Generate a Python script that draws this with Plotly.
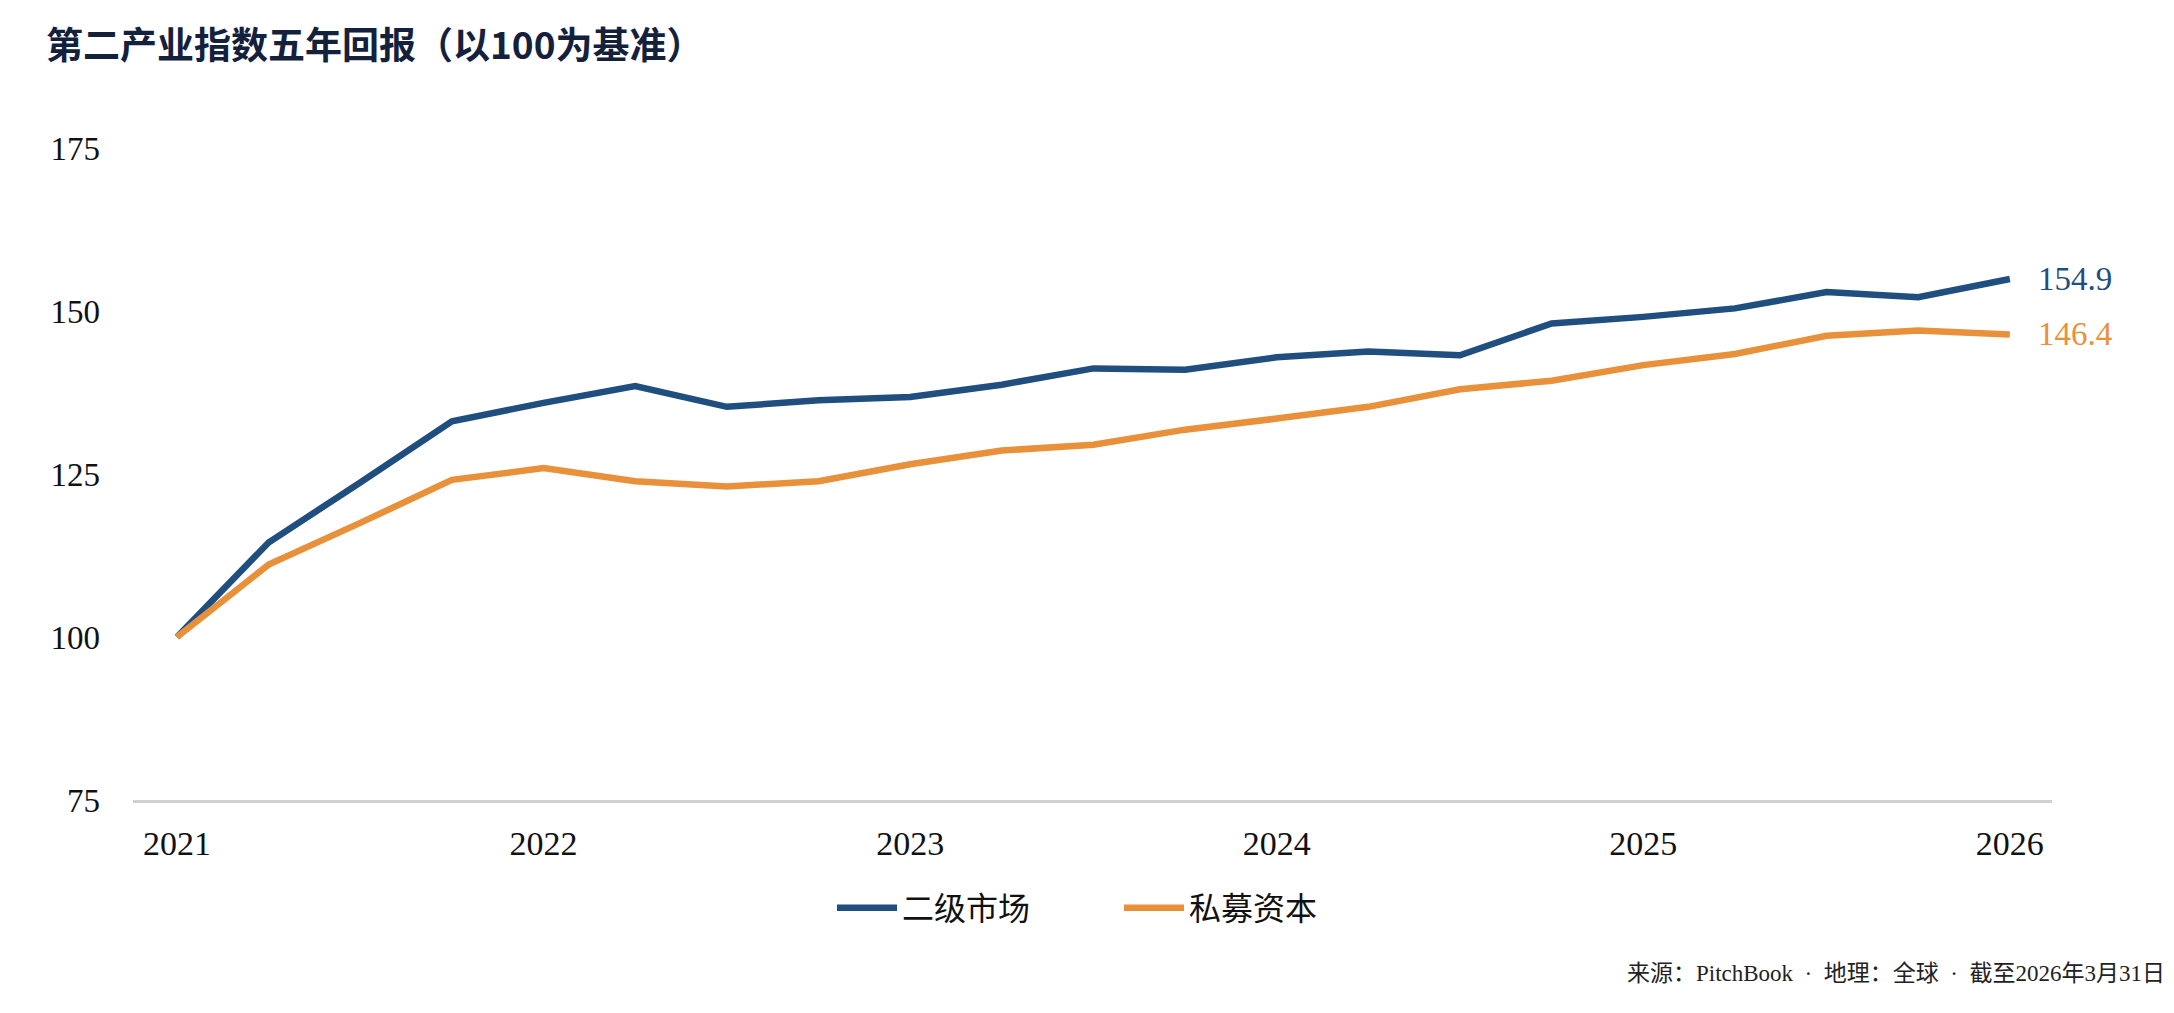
import plotly.graph_objects as go

# Quarterly dates as fractional years (Q1 2021 .. Q1 2026)
x_quarters = [2021 + i * 0.25 for i in range(21)]

secondary_market = [100.0, 114.5, 123.7, 133.1, 135.9, 138.5, 135.3, 136.3, 136.8, 138.7,
                    141.2, 141.0, 142.9, 143.8, 143.2, 148.1, 149.1, 150.4, 152.9, 152.1, 154.9]
private_capital = [100.0, 111.1, 117.5, 124.1, 125.9, 123.9, 123.1, 123.9, 126.5, 128.6,
                   129.5, 131.8, 133.5, 135.3, 138.0, 139.3, 141.7, 143.4, 146.2, 147.0, 146.4]

series_names = ["二级市场", "私募资本"]
series_colors = ["#1f4e7f", "#e8913a"]

x_tick_vals = [2021, 2022, 2023, 2024, 2025, 2026]
x_tick_text = ["2021", "2022", "2023", "2024", "2025", "2026"]
y_tick_vals = [75, 100, 125, 150, 175]

title_text = "第二产业指数五年回报（以100为基准）"
source_text = "来源：PitchBook  ·  地理：全球  ·  截至2026年3月31日"

W, H = 2174, 1013
L, R, T, B = 133, 122, 148, 213

serif = "Liberation Serif, Noto Sans CJK SC, serif"

fig = go.Figure()
for name, ys, col in zip(series_names, [secondary_market, private_capital], series_colors):
    fig.add_trace(go.Scatter(
        x=x_quarters, y=ys, mode="lines", name=name,
        line=dict(color=col, width=6.5),
    ))

# End value labels
for ys, col in zip([secondary_market, private_capital], series_colors):
    fig.add_annotation(
        x=x_quarters[-1], y=ys[-1], xref="x", yref="y",
        text=f"{ys[-1]:.1f}", showarrow=False, xanchor="left", yanchor="middle",
        xshift=26, font=dict(family=serif, size=33, color=col),
    )

plot_w = W - L - R
plot_h = H - T - B

# Source note
fig.add_annotation(
    xref="paper", yref="paper",
    x=(2167 - L) / plot_w, y=(H - B - 973) / plot_h,
    text=source_text, showarrow=False, xanchor="right", yanchor="middle",
    font=dict(family=serif, size=23, color="#222222"),
)

fig.update_layout(
    width=W, height=H,
    margin=dict(l=L, r=R, t=T, b=B),
    paper_bgcolor="white", plot_bgcolor="white",
    title=dict(
        text=f"<b>{title_text}</b>",
        x=46 / W, xanchor="left", xref="container",
        y=1 - 46 / H, yanchor="middle", yref="container",
        font=dict(family="Noto Sans CJK SC, sans-serif", size=37, color="#14213d"),
    ),
    showlegend=True,
    legend=dict(
        orientation="h", xanchor="center", x=(1119 - L) / plot_w,
        yanchor="middle", y=(H - B - 908) / plot_h,
        font=dict(family="Noto Sans CJK SC, sans-serif", size=32, color="#111111"),
        itemwidth=60, traceorder="normal",
        entrywidth=212, entrywidthmode="pixels",
        bgcolor="rgba(0,0,0,0)",
    ),
    xaxis=dict(
        range=[2020.88, 2026.115],
        tickvals=x_tick_vals, ticktext=x_tick_text,
        showgrid=False, zeroline=False,
        showline=True, linecolor="#d0d0d0", linewidth=3,
        ticks="", ticklabelstandoff=11,
        tickfont=dict(family=serif, size=34, color="#111111"),
    ),
    yaxis=dict(
        range=[75, 175],
        tickvals=y_tick_vals,
        showgrid=False, zeroline=False, showline=False,
        ticks="", ticklabelstandoff=32,
        tickfont=dict(family=serif, size=33, color="#111111"),
    ),
)

fig.write_html("out.html")
